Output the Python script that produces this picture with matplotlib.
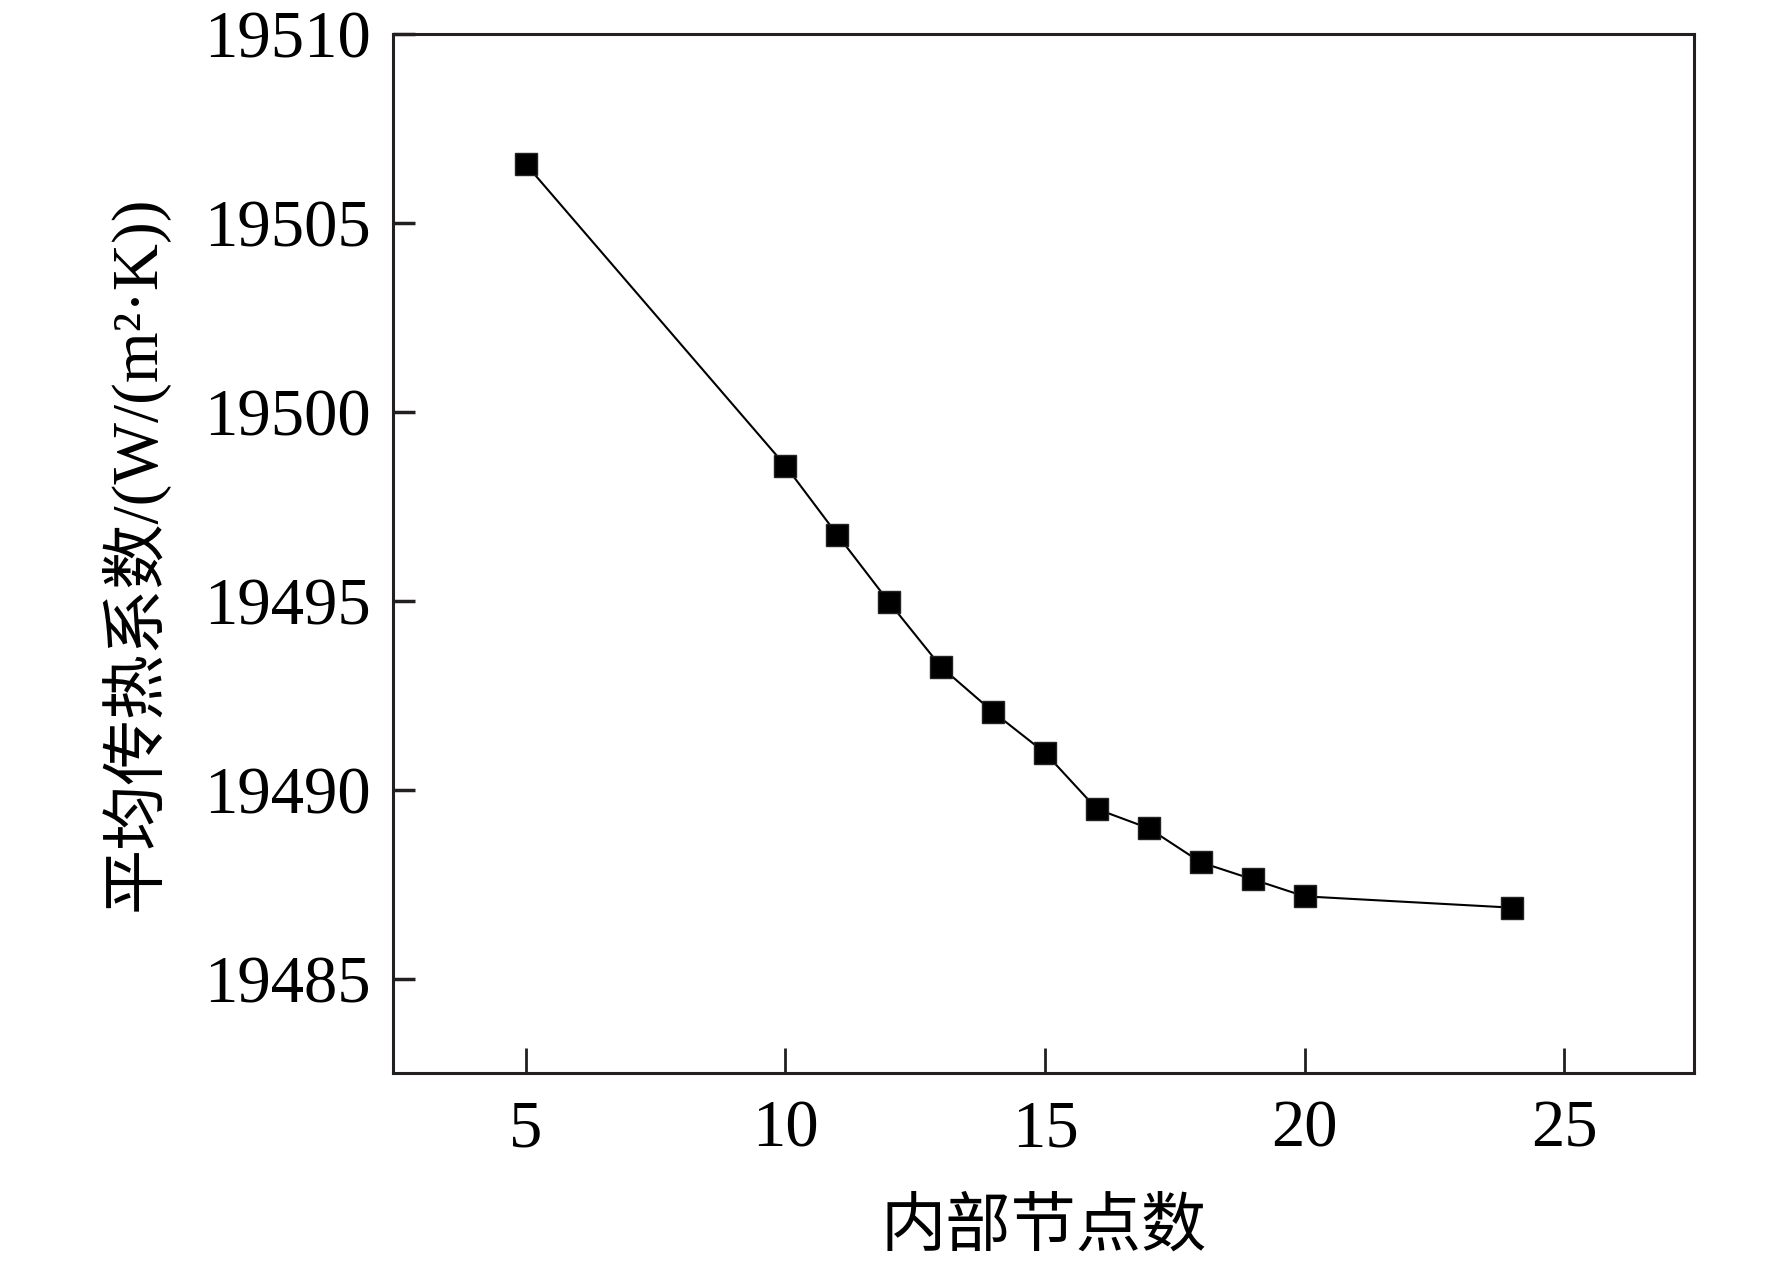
import matplotlib
matplotlib.use("Agg")
import matplotlib.pyplot as plt

# Fonts: serif for digits, CJK fallback for the Chinese labels
plt.rcParams['font.family'] = ['Liberation Serif', 'Noto Sans CJK SC', 'DejaVu Sans']

# ---------------------------------------------------------------------
# Data
# ---------------------------------------------------------------------
nodes = [5, 10, 11, 12, 13, 14, 15, 16, 17, 18, 19, 20, 24]
htc = [19506.56, 19498.58, 19496.75, 19494.96, 19493.25, 19492.06,
       19490.98, 19489.49, 19488.98, 19488.08, 19487.63, 19487.18, 19486.88]
x_ticks = [5, 10, 15, 20, 25]
y_ticks = [19485, 19490, 19495, 19500, 19505, 19510]

fig = plt.figure(figsize=(17.72, 12.67), dpi=100)
ax = fig.add_axes([0.222, 0.153, 0.734, 0.820])

ax.plot(nodes, htc, color='black', linewidth=1.5, marker='s',
        markersize=16, markerfacecolor='black', markeredgecolor='#222222')

ax.set_xlim(2.45, 27.5)
ax.set_ylim(19482.5, 19510)
ax.set_xticks(x_ticks)
ax.set_yticks(y_ticks)

for s in ax.spines.values():
    s.set_linewidth(2.2)
    s.set_color('#231f20')

ax.tick_params(axis='x', direction='in', length=18, width=2, pad=19,
               labelsize=48, color='#231f20')
ax.tick_params(axis='y', direction='in', length=16, width=2.5, pad=16,
               labelsize=48, color='#231f20')

ax.set_xlabel('内部节点数', fontsize=47, labelpad=28)
ax.set_ylabel('平均传热系数/(W/(m²·K))', fontsize=47, labelpad=26)

fig.savefig('out.png', dpi=100)
